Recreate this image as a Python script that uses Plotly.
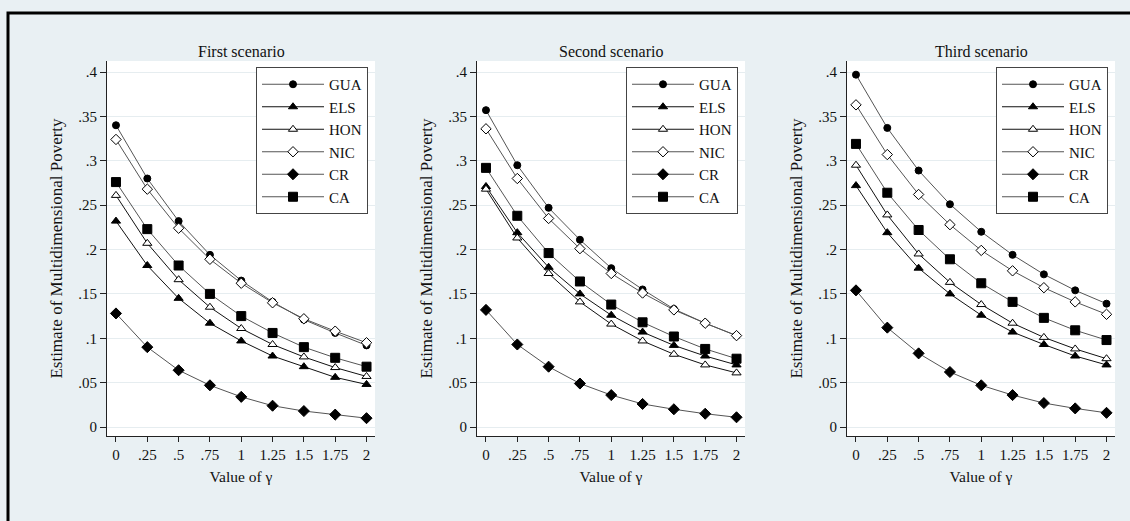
import plotly.graph_objects as go

gamma = [0, 0.25, 0.5, 0.75, 1, 1.25, 1.5, 1.75, 2]
gamma_ticktext = ["0", ".25", ".5", ".75", "1", "1.25", "1.5", "1.75", "2"]
y_tickvals = [0, 0.05, 0.1, 0.15, 0.2, 0.25, 0.3, 0.35, 0.4]
y_ticktext = ["0", ".05", ".1", ".15", ".2", ".25", ".3", ".35", ".4"]

countries = ["GUA", "ELS", "HON", "NIC", "CR", "CA"]
scenario_titles = ["First scenario", "Second scenario", "Third scenario"]

# First scenario
first_GUA = [0.340, 0.280, 0.232, 0.194, 0.165, 0.141, 0.121, 0.106, 0.092]
first_ELS = [0.232, 0.182, 0.145, 0.117, 0.097, 0.080, 0.068, 0.056, 0.048]
first_HON = [0.261, 0.207, 0.166, 0.135, 0.111, 0.093, 0.079, 0.067, 0.057]
first_NIC = [0.324, 0.268, 0.224, 0.189, 0.162, 0.140, 0.122, 0.108, 0.095]
first_CR = [0.128, 0.090, 0.064, 0.047, 0.034, 0.024, 0.018, 0.014, 0.010]
first_CA = [0.276, 0.223, 0.182, 0.150, 0.125, 0.106, 0.090, 0.078, 0.068]

# Second scenario
second_GUA = [0.357, 0.295, 0.247, 0.211, 0.179, 0.155, 0.133, 0.117, 0.103]
second_ELS = [0.271, 0.219, 0.180, 0.150, 0.126, 0.107, 0.092, 0.080, 0.070]
second_HON = [0.268, 0.213, 0.173, 0.141, 0.116, 0.097, 0.082, 0.070, 0.061]
second_NIC = [0.336, 0.280, 0.235, 0.201, 0.173, 0.151, 0.132, 0.117, 0.103]
second_CR = [0.132, 0.093, 0.068, 0.049, 0.036, 0.026, 0.020, 0.015, 0.011]
second_CA = [0.292, 0.238, 0.196, 0.164, 0.138, 0.118, 0.102, 0.088, 0.077]

# Third scenario
third_GUA = [0.397, 0.337, 0.289, 0.251, 0.220, 0.194, 0.172, 0.154, 0.139]
third_ELS = [0.272, 0.219, 0.179, 0.150, 0.126, 0.107, 0.093, 0.080, 0.070]
third_HON = [0.295, 0.239, 0.195, 0.163, 0.138, 0.117, 0.101, 0.088, 0.077]
third_NIC = [0.363, 0.307, 0.262, 0.228, 0.199, 0.176, 0.157, 0.141, 0.127]
third_CR = [0.154, 0.112, 0.083, 0.062, 0.047, 0.036, 0.027, 0.021, 0.016]
third_CA = [0.319, 0.264, 0.222, 0.189, 0.162, 0.141, 0.123, 0.109, 0.098]

scenarios = [
    [first_GUA, first_ELS, first_HON, first_NIC, first_CR, first_CA],
    [second_GUA, second_ELS, second_HON, second_NIC, second_CR, second_CA],
    [third_GUA, third_ELS, third_HON, third_NIC, third_CR, third_CA],
]

styles = {
    "GUA": dict(symbol="circle", size=7, fill="black", line="#555555"),
    "ELS": dict(symbol="triangle-up", size=8, fill="black", line="#111111"),
    "HON": dict(symbol="triangle-up", size=8, fill="white", line="#111111"),
    "NIC": dict(symbol="diamond", size=8, fill="white", line="#555555"),
    "CR": dict(symbol="diamond", size=8.5, fill="black", line="#555555"),
    "CA": dict(symbol="square", size=9, fill="black", line="#555555"),
}

W, H = 1130, 521
plot_left, plot_right, plot_top, plot_bottom = 107, 1115, 61, 436
pw = plot_right - plot_left
ph = plot_bottom - plot_top
panel_px = [(107, 375), (477, 745), (847, 1115)]
domains = [[(a - plot_left) / pw, (b - plot_left) / pw] for a, b in panel_px]

FONT = "Liberation Serif, Times New Roman, serif"
BG = "#e9f0f3"

fig = go.Figure()
legend_names = ["legend", "legend2", "legend3"]
for i, series in enumerate(scenarios):
    ax = "" if i == 0 else str(i + 1)
    for name, vals in zip(countries, series):
        st = styles[name]
        fig.add_trace(go.Scatter(
            x=gamma, y=vals, name=name, mode="lines+markers",
            xaxis="x" + ax, yaxis="y" + ax,
            legend=legend_names[i],
            line=dict(color=st["line"], width=1),
            marker=dict(symbol=st["symbol"], size=st["size"], color=st["fill"],
                        line=dict(color="black", width=1)),
        ))

layout = dict(
    width=W, height=H,
    margin=dict(l=plot_left, r=W - plot_right, t=plot_top, b=H - plot_bottom),
    paper_bgcolor=BG, plot_bgcolor="white",
    font=dict(family=FONT, color="#111111", size=15),
    showlegend=True,
)

legend_x_px = [256, 626, 996]
for i in range(3):
    ax = "" if i == 0 else str(i + 1)
    layout["xaxis" + ax] = dict(
        domain=domains[i], anchor="y" + ax, range=[-0.0717, 2.0677],
        tickmode="array", tickvals=gamma, ticktext=gamma_ticktext,
        ticks="outside", ticklen=5, tickcolor="#222", tickwidth=1,
        showline=True, linecolor="#222", linewidth=1, showgrid=False, zeroline=False,
        tickfont=dict(size=15, family=FONT),
        title=dict(text="Value of γ", font=dict(size=15.5, family=FONT), standoff=9),
        fixedrange=True,
    )
    layout["yaxis" + ax] = dict(
        domain=[0, 1], anchor="x" + ax, range=[-0.0101, 0.4124],
        tickmode="array", tickvals=y_tickvals, ticktext=y_ticktext,
        ticks="outside", ticklen=6, tickcolor="#222", tickwidth=1,
        showline=True, linecolor="#222", linewidth=1,
        showgrid=True, gridcolor="#e6edf0", gridwidth=1, zeroline=False,
        tickfont=dict(size=15, family=FONT),
        title=dict(text="Estimate of Multidimensional Poverty", font=dict(size=17, family=FONT), standoff=11),
        fixedrange=True,
    )
    layout[legend_names[i]] = dict(
        x=(legend_x_px[i] - plot_left) / pw, y=(plot_bottom - 67) / ph,
        xanchor="left", yanchor="top",
        bgcolor="white", bordercolor="#444444", borderwidth=1,
        font=dict(size=15, family=FONT, color="#111111"),
        itemwidth=62, tracegroupgap=0,
    )

annotations = []
for i, t in enumerate(scenario_titles):
    cx = (sum(domains[i])) / 2
    annotations.append(dict(
        text=t, x=cx, y=(plot_bottom - 51) / ph, xref="paper", yref="paper",
        xanchor="center", yanchor="middle", showarrow=False,
        font=dict(size=16, family=FONT, color="#111111"),
    ))
layout["annotations"] = annotations

layout["shapes"] = [dict(
    type="rect", xref="paper", yref="paper",
    x0=(8 - plot_left) / pw, x1=(W + 20 - plot_left) / pw,
    y0=(plot_bottom - (H + 20)) / ph, y1=(plot_bottom - 13) / ph,
    line=dict(color="black", width=3), fillcolor="rgba(0,0,0,0)", layer="above",
)]

fig.update_layout(**layout)
fig.write_html("out.html")
